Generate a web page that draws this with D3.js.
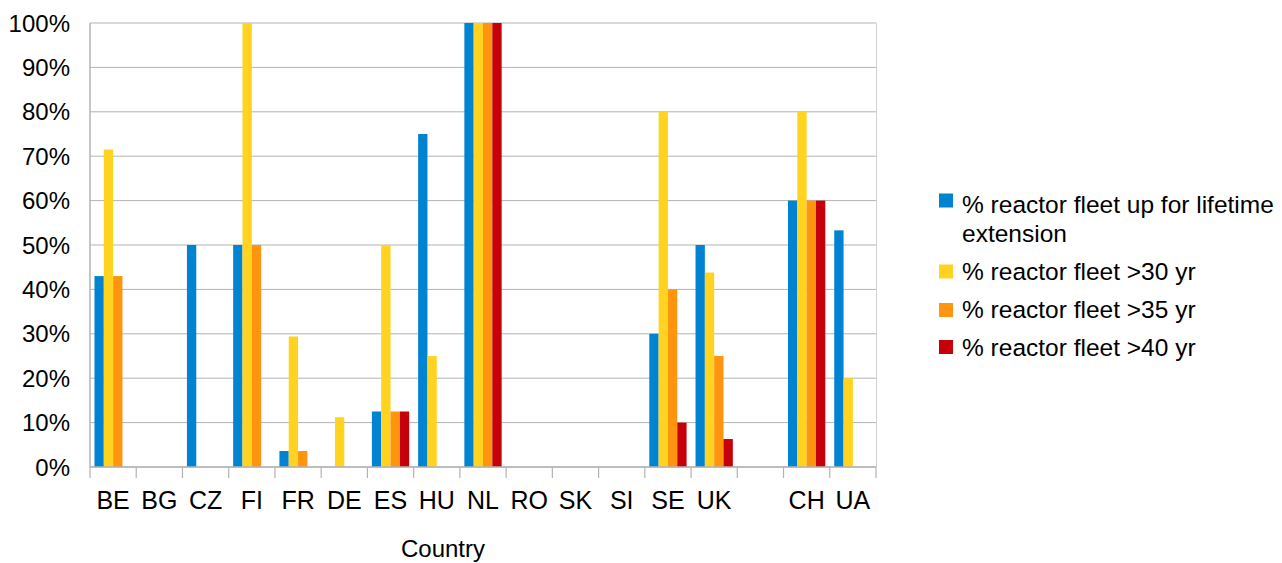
<!DOCTYPE html>
<html><head><meta charset="utf-8">
<script src="https://cdn.jsdelivr.net/npm/d3@7"></script>
<style>body{margin:0;background:#fff}svg{display:block}text{font-family:"Liberation Sans",Arial,sans-serif;fill:#000}</style>
</head><body><svg id="c" width="1282" height="563"></svg>
<script>
const categories = ["BE","BG","CZ","FI","FR","DE","ES","HU","NL","RO","SK","SI","SE","UK","","CH","UA"];
const seriesNames = ["% reactor fleet up for lifetime extension","% reactor fleet >30 yr","% reactor fleet >35 yr","% reactor fleet >40 yr"];
const lifetimeExt = [43,0,50,50,3.6,0,12.5,75,100,0,0,0,30,50,0,60,53.3];
const over30 = [71.5,0,0,100,29.4,11.2,50,25,100,0,0,0,80,43.8,0,80,20];
const over35 = [43,0,0,50,3.6,0,12.5,0,100,0,0,0,40,25,0,60,0];
const over40 = [0,0,0,0,0,0,12.5,0,100,0,0,0,10,6.3,0,60,0];
const yTicks = [0,10,20,30,40,50,60,70,80,90,100];
const colors = ["#0084d1","#ffd320","#ff950e","#c5000b"];
const series = [lifetimeExt, over30, over35, over40];

const svg = d3.select("#c");
const L=90, R=876, T=23, B=467;
const x = d3.scaleBand().domain(d3.range(categories.length)).range([L,R]).paddingInner(0).paddingOuter(0);
const y = d3.scaleLinear().domain([0,100]).range([B,T]);
const inner = d3.scaleBand().domain(d3.range(4)).range([0,x.bandwidth()]).paddingOuter(0.48).paddingInner(0);

svg.append("g").selectAll("line").data(yTicks).join("line")
  .attr("x1",L).attr("x2",R).attr("y1",d=>y(d)).attr("y2",d=>y(d))
  .attr("stroke","#b3b3b3").attr("stroke-width",1);
svg.append("line").attr("x1",R+0.5).attr("x2",R+0.5).attr("y1",T).attr("y2",B).attr("stroke","#d0d0d0");

svg.append("g").selectAll("text").data(yTicks).join("text")
  .attr("x",70).attr("y",d=>y(d)+8.5).attr("text-anchor","end")
  .attr("font-size",24).text(d=>d+"%");

series.forEach((s,si)=>{
  svg.append("g").selectAll("rect").data(s).join("rect")
    .attr("x",(d,i)=>x(i)+inner(si)).attr("width",inner.bandwidth())
    .attr("y",d=>y(d)).attr("height",d=>B-y(d)).attr("fill",colors[si]);
});

svg.append("line").attr("x1",L).attr("x2",L).attr("y1",T).attr("y2",B).attr("stroke","#b3b3b3").attr("stroke-width",1.5);
svg.append("line").attr("x1",L).attr("x2",R).attr("y1",B).attr("y2",B).attr("stroke","#b3b3b3").attr("stroke-width",1.5);
const bounds = d3.range(categories.length+1).map(i=>L+i*x.step());
svg.append("g").selectAll("line").data(bounds).join("line")
  .attr("x1",d=>d).attr("x2",d=>d).attr("y1",B).attr("y2",B+11).attr("stroke","#b3b3b3").attr("stroke-width",1.2);
svg.append("g").selectAll("text").data(categories).join("text")
  .attr("x",(d,i)=>x(i)+x.bandwidth()/2).attr("y",509).attr("text-anchor","middle")
  .attr("font-size",25).text(d=>d);
svg.append("text").attr("x",443).attr("y",557).attr("text-anchor","middle").attr("font-size",24).text("Country");

const legY = [200.5,271.5,310,347];
const legText = [212.5,280,318,356];
const lg = svg.append("g");
seriesNames.forEach((n,i)=>{
  lg.append("rect").attr("x",939).attr("y",legY[i]-7).attr("width",14).attr("height",14).attr("fill",colors[i]);
  const t = lg.append("text").attr("x",962).attr("y",legText[i]).attr("font-size",24.5);
  if(i===0){
    t.append("tspan").attr("x",962).text("% reactor fleet up for lifetime");
    t.append("tspan").attr("x",962).attr("dy",29).text("extension");
  } else t.text(n);
});
</script></body></html>
